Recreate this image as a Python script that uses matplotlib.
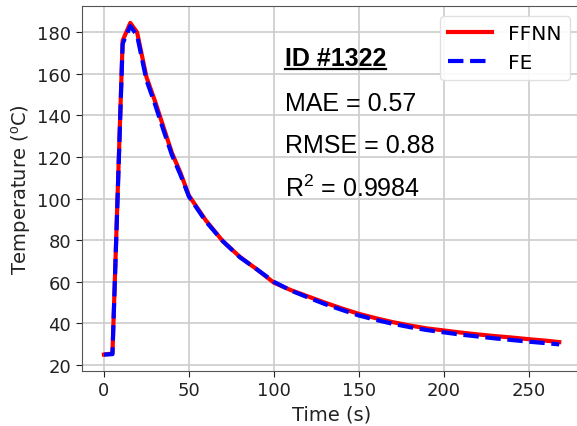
import matplotlib
matplotlib.use('Agg')
import matplotlib.pyplot as plt
from matplotlib.lines import Line2D

# valores
tempo = [0, 5, 11, 15.5, 19.5, 25, 30, 35, 40, 45, 50, 60, 70, 80, 90,
         100, 110, 120, 130, 140, 150, 160, 170, 180, 190, 200, 210, 220,
         230, 240, 250, 260, 268]
ffnn = [25, 25.5, 176, 184.5, 180, 158.5, 147, 134.5, 122, 112.5, 101.5,
        89.5, 79.5, 72, 66, 59.6, 56, 53, 50, 47.2, 44.6, 42.5, 40.6, 39,
        37.6, 36.6, 35.6, 34.7, 33.9, 33.2, 32.4, 31.7, 31]
fe = [25, 25.2, 174.5, 183, 178.5, 157, 145.5, 133, 121, 111.5, 101,
      89, 79.5, 71.8, 66, 60, 55.8, 52.5, 49.3, 46.5, 43.8, 41.7, 39.8,
      38.2, 36.8, 35.7, 34.6, 33.7, 32.8, 32, 31.2, 30.5, 29.9]

metricas = ['MAE = 0.57', 'RMSE = 0.88', r'R$^2$ = 0.9984']
titulo_id = 'ID #1322'

# mathtext com fonte tipo Arial (para o R^2 e o grau)
plt.rcParams['mathtext.fontset'] = 'custom'
plt.rcParams['mathtext.rm'] = 'Liberation Sans'
plt.rcParams['mathtext.it'] = 'Liberation Sans:italic'
plt.rcParams['mathtext.bf'] = 'Liberation Sans:bold'

fig = plt.figure(figsize=(5.77, 4.27), dpi=100)
ax = fig.add_axes([81.7 / 577, 55 / 427, (582 - 81.7) / 577, (372 - 7.3) / 427])

ax.plot(tempo, ffnn, color='red', lw=3, label='FFNN', zorder=3)
ax.plot(tempo, fe, color='blue', lw=3, ls='--', label='FE', zorder=4)

ax.set_xlim(-13.1, 281.4)
ax.set_ylim(17.1, 192.5)
ax.set_xticks([0, 50, 100, 150, 200, 250])
ax.set_yticks(range(20, 181, 20))
ax.grid(True, color='#cccccc', lw=1.2)
ax.tick_params(labelsize=13, colors='#222222', length=4)
for sp in ax.spines.values():
    sp.set_color('#555555')

ax.set_xlabel('Time (s)', fontsize=14, color='#222222')
ax.set_ylabel(r'Temperature ($^\mathrm{o}$C)', fontsize=14, color='#222222')

fig.legend(loc='upper right', bbox_to_anchor=(570 / 577, 1 - 17 / 427),
           bbox_transform=fig.transFigure, borderaxespad=0, fontsize=14.5,
           handlelength=2.2, framealpha=0.9, edgecolor='#dddddd')

# textos com métricas
arial = 'Liberation Sans'
t_id = ax.text(106.5, 164.3, titulo_id, fontsize=18, fontweight='bold',
               family=arial, va='baseline')
ys = [142.6, 122.4, 101.3]
for txt, y in zip(metricas, ys):
    ax.text(106.5, y, txt, fontsize=18, family=arial, va='baseline')

# sublinhado do ID
fig.canvas.draw()
bb = t_id.get_window_extent()
_, yb = ax.transData.transform((106.5, 164.3))
yl = yb - 4
fig.add_artist(Line2D([bb.x0, bb.x1], [yl, yl], transform=None,
                      color='black', lw=1.6))

fig.savefig('out.png', dpi=100)
